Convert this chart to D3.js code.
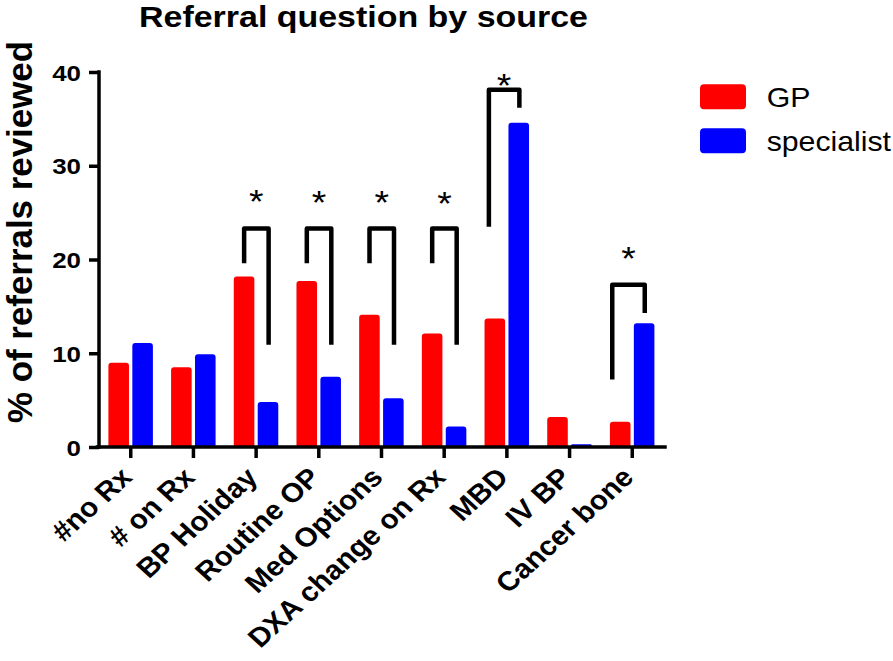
<!DOCTYPE html>
<html>
<head>
<meta charset="utf-8">
<script src="https://cdn.jsdelivr.net/npm/d3@7"></script>
<style>
  body { margin: 0; background: #fff; }
  text { font-family: Arial, "Liberation Sans", sans-serif; }
</style>
</head>
<body>
<svg id="chart" width="893" height="661"></svg>
<script>
// data
var categories = ["#no Rx", "# on Rx", "BP Holiday", "Routine OP", "Med Options",
  "DXA change on Rx", "MBD", "IV BP", "Cancer bone"];
var seriesNames = ["GP", "specialist"];
var gpValues = [9.0, 8.5, 18.2, 17.7, 14.1, 12.1, 13.7, 3.2, 2.7];
var specialistValues = [11.1, 9.9, 4.8, 7.5, 5.2, 2.2, 34.6, 0.3, 13.2];
var yTicks = [0, 10, 20, 30, 40];

// significance brackets: category, bracket top, left leg end, right leg end, star level
var sigCategories = ["BP Holiday", "Routine OP", "Med Options", "DXA change on Rx", "MBD", "Cancer bone"];
var sigTop = [23.3, 23.3, 23.3, 23.3, 38.1, 17.3];
var sigLeftEnd = [19.6, 19.6, 19.6, 19.6, 23.5, 7.2];
var sigRightEnd = [10.9, 10.9, 10.9, 10.9, 36.2, 14.3];
var sigStar = [27.0, 26.9, 26.9, 26.8, 39.4, 20.9];

var colors = { GP: "#ff0000", specialist: "#0000ff" };

// the source picture is a little wider than tall, so text is stretched sideways
var stretch = 1.1;
var svg = d3.select("#chart");

var x = d3.scaleBand().domain(categories).range([99.4, 663.6]).padding(0);
var x1 = d3.scaleBand().domain(seriesNames).range([9, 53.5]).paddingInner(0.14);
var y = d3.scaleLinear().domain([0, 40]).range([447, 72]);

var table = categories.map(function (c, i) {
  return { cat: c, GP: gpValues[i], specialist: specialistValues[i] };
});

// bars
var groups = svg.selectAll(".grp")
  .data(table)
  .join("g")
  .attr("class", "grp")
  .attr("transform", (d) => `translate(${x(d.cat)},0)`);

groups.selectAll("path")
  .data((d) => seriesNames.map((s) => ({ key: s, value: d[s] })))
  .join("path")
  .attr("d", function (d) {
    var x0 = x1(d.key), w = x1.bandwidth(), y0 = y(0), yt = y(d.value);
    var r = Math.min(3, (y0 - yt) / 2);
    return `M${x0},${y0}V${yt + r}Q${x0},${yt} ${x0 + r},${yt}H${x0 + w - r}Q${x0 + w},${yt} ${x0 + w},${yt + r}V${y0}Z`;
  })
  .style("fill", (d) => colors[d.key]);

// axes
var yAxis = svg.append("g")
  .attr("transform", "translate(99,0)")
  .call(d3.axisLeft(y).tickValues(yTicks).tickSize(10).tickPadding(8).tickFormat(d3.format("d")));
var xAxis = svg.append("g")
  .attr("transform", "translate(0,447)")
  .call(d3.axisBottom(x).tickSize(11).tickFormat(""));

[yAxis, xAxis].forEach(function (a) {
  a.select(".domain").attr("stroke", "#000").attr("stroke-width", 3.5)
    .attr("stroke-linecap", "square");
  a.selectAll(".tick line").attr("stroke", "#000").attr("stroke-width", 3.5);
});
xAxis.select(".domain").attr("d", "M97.5,0H665");
yAxis.select(".domain").attr("d", "M0,72V447");

yAxis.selectAll(".tick text")
  .attr("fill", "#000")
  .style("font-size", "22.5px")
  .style("font-weight", "bold")
  .attr("dy", "0.36em")
  .attr("transform", "translate(-1,0) scale(1.15,1)")
  .attr("x", -17 / 1.15);

// rotated category labels
svg.selectAll(".xlab")
  .data(categories)
  .join("text")
  .attr("class", "xlab")
  .attr("text-anchor", "end")
  .attr("transform", (d) => `translate(${x(d) + x.bandwidth() / 2 + 3},479) scale(${stretch},1) rotate(-45)`)
  .style("font-size", "27px")
  .style("font-weight", "bold")
  .text((d) => d);

// significance brackets
var legDx = { "MBD": -18, "Cancer bone": -20 };
sigCategories.forEach(function (c, i) {
  var cx = x(c) + x.bandwidth() / 2;
  var lx = cx + (legDx[c] !== undefined ? legDx[c] : -12);
  var rx = cx + 12.5;
  svg.append("path")
    .attr("d", `M${lx},${y(sigLeftEnd[i])}V${y(sigTop[i])}H${rx}V${y(sigRightEnd[i])}`)
    .attr("fill", "none")
    .attr("stroke", "#000")
    .attr("stroke-width", 4.5)
    .attr("stroke-linejoin", "round");
  svg.append("text")
    .attr("transform", `translate(${(lx + rx) / 2},${y(sigStar[i]) + 19}) scale(${stretch},1)`)
    .attr("text-anchor", "middle")
    .style("font-size", "34px")
    .text("*");
});

// title
svg.append("text")
  .attr("x", 363.5)
  .attr("y", 27)
  .attr("text-anchor", "middle")
  .style("font-size", "30px")
  .style("font-weight", "bold")
  .attr("textLength", 449)
  .attr("lengthAdjust", "spacingAndGlyphs")
  .text("Referral question by source");

// y axis title
svg.append("text")
  .attr("transform", "translate(32,232) scale(1.04,1) rotate(-90)")
  .attr("text-anchor", "middle")
  .style("font-size", "34px")
  .style("font-weight", "bold")
  .attr("textLength", 382)
  .attr("lengthAdjust", "spacingAndGlyphs")
  .text("% of referrals reviewed");

// legend
var legend = svg.selectAll(".leg")
  .data(seriesNames)
  .join("g")
  .attr("class", "leg")
  .attr("transform", (d, i) => `translate(700,${84.3 + i * 44})`);
legend.append("rect")
  .attr("width", 46)
  .attr("height", 25)
  .attr("rx", 4)
  .style("fill", (d) => colors[d]);
legend.append("text")
  .attr("transform", "translate(66.7,22.4) scale(1.08,1)")
  .style("font-size", "28px")
  .text((d) => d);
</script>
</body>
</html>
